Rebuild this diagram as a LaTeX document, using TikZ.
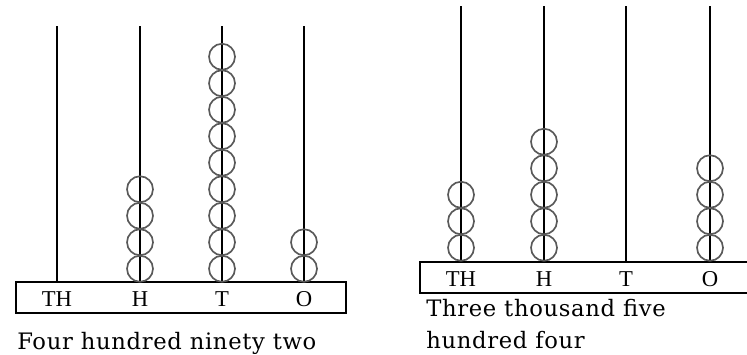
\documentclass[tikz,border=0pt]{standalone}
\usepackage{fontspec}
\setmainfont{Liberation Serif}
\newfontfamily\capfont[LetterSpace=3]{DejaVu Serif}
\usetikzlibrary{positioning}

\tikzset{
  rod/.style={line width=1.5pt},
  bead/.style={circle, draw=black!65, line width=1.25pt, inner sep=0pt, minimum size=19.5pt},
  frame/.style={draw, line width=1.5pt, inner sep=0pt, minimum height=23.25pt},
  place/.style={font=\fontsize{17}{17}\selectfont},
  caption/.style={font=\capfont\fontsize{17}{24}\selectfont, inner sep=0pt}
}

\begin{document}
\begin{tikzpicture}[x=0.75pt, y=-0.75pt]
\useasboundingbox (0,0) rectangle (747,354);
\clip (0,0) rectangle (747,354);

% First abacus: 492
\node[frame, minimum width=247.5pt] (baseA) at (181,297.5) {};
\coordinate (thA) at (57,26);
\coordinate (hA) at (140,26);
\coordinate (tA) at (222,26);
\coordinate (oA) at (304,26);

% Rods
\foreach \r in {thA,hA,tA,oA}
  \draw[rod] (\r) -- (\r |- baseA.north);

% Beads
\foreach \i in {1,...,4}
  \node[bead] (hA\i) at (140,{282-13.25-26.5*(\i-1)}) {};
\foreach \i in {1,...,9}
  \node[bead] (tA\i) at (222,{282-13.25-26.5*(\i-1)}) {};
\foreach \i in {1,...,2}
  \node[bead] (oA\i) at (304,{282-13.25-26.5*(\i-1)}) {};

% Labels
\node[place, anchor=base] (thLabelA) at (57,306.5) {TH};
\node[place, anchor=base] (hLabelA) at (140,306.5) {H};
\node[place, anchor=base] (tLabelA) at (222,306.5) {T};
\node[place, anchor=base] (oLabelA) at (304,306.5) {O};

\node[caption, anchor=base west] (nameA) at (17,349) {Four hundred ninety two};

% Second abacus: 3504
\node[frame, minimum width=247.5pt] (baseB) at (585,277) {};
\coordinate (thB) at (461,6);
\coordinate (hB) at (544,6);
\coordinate (tB) at (626,6);
\coordinate (oB) at (710,6);

% Rods
\foreach \r in {thB,hB,tB,oB}
  \draw[rod] (\r) -- (\r |- baseB.north);

% Beads
\foreach \i in {1,...,3}
  \node[bead] (thB\i) at (461,{261-13.25-26.5*(\i-1)}) {};
\foreach \i in {1,...,5}
  \node[bead] (hB\i) at (544,{261-13.25-26.5*(\i-1)}) {};
\foreach \i in {1,...,4}
  \node[bead] (oB\i) at (710,{261-13.25-26.5*(\i-1)}) {};

% Labels
\node[place, anchor=base] (thLabelB) at (461,286) {TH};
\node[place, anchor=base] (hLabelB) at (544,286) {H};
\node[place, anchor=base] (tLabelB) at (626,286) {T};
\node[place, anchor=base] (oLabelB) at (710,286) {O};

\node[caption, anchor=base west] (nameB) at (426,316.5) {Three thousand five};
\node[caption, anchor=base west] (nameBb) at (426,348) {hundred four};
\end{tikzpicture}
\end{document}
